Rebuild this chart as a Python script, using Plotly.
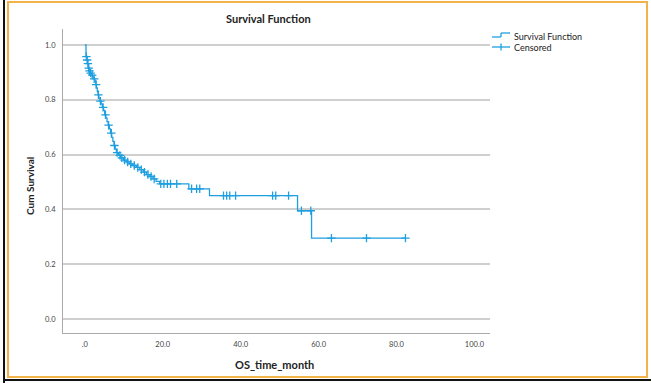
import plotly.graph_objects as go
import bisect

# ---- data ----
event_times = [0, 0.3, 0.5, 0.7, 0.9, 1.1, 1.4, 1.7, 2.0, 2.3, 2.6, 2.8, 3.0, 3.2, 3.4,
               3.6, 3.9, 4.2, 4.5, 4.8, 5.1, 5.4, 5.7, 6.0, 6.3, 6.6, 6.9, 7.2, 7.5, 7.8,
               8.1, 8.6, 9.2, 9.9, 10.6, 11.4, 12.3, 13.2, 14.1, 15.0, 15.8, 16.7, 17.5,
               18.3, 19.2, 26.7, 32.0, 54.6, 58.2, 82.3]
survival = [1.0, 0.957, 0.945, 0.932, 0.915, 0.905, 0.897, 0.89, 0.883, 0.876, 0.869,
            0.855, 0.843, 0.83, 0.818, 0.806, 0.795, 0.784, 0.772, 0.761, 0.745, 0.733,
            0.72, 0.707, 0.694, 0.678, 0.663, 0.648, 0.633, 0.62, 0.607, 0.597, 0.588,
            0.58, 0.573, 0.566, 0.56, 0.553, 0.545, 0.536, 0.527, 0.52, 0.511, 0.502,
            0.493, 0.475, 0.45, 0.395, 0.295, 0.295]
censored_times = [0.4, 0.6, 0.8, 1.0, 1.2, 1.5, 1.9, 2.4, 2.9, 3.5, 4.0, 4.7, 5.3, 6.1,
                  6.8, 7.6, 8.3, 9.0, 9.5, 10.2, 11.0, 11.8, 12.7, 13.6, 14.5, 15.3, 16.2,
                  17.0, 17.8, 19.5, 20.3, 21.2, 22.0, 23.6, 27.4, 28.7, 29.5, 35.6, 36.4,
                  37.2, 38.7, 48.2, 49.0, 52.3, 55.6, 58.0, 63.3, 72.3, 82.3]
x_tick_vals = [0, 20, 40, 60, 80, 100]
x_tick_text = [".0", "20.0", "40.0", "60.0", "80.0", "100.0"]
y_tick_vals = [0.0, 0.2, 0.4, 0.6, 0.8, 1.0]
y_tick_text = ["0.0", "0.2", "0.4", "0.6", "0.8", "1.0"]
legend_names = ["Survival Function", "Censored"]


def surv_at(t):
    i = bisect.bisect_right(event_times, t) - 1
    return survival[max(i, 0)]


censored_surv = [surv_at(t) for t in censored_times]

BLUE = "#1E9FE0"
W, H = 651, 383
L, R, T, B = 63, 490, 29, 333


def px(x):
    return (x - L) / (R - L)


def py(y):
    return (B - y) / (B - T)


fig = go.Figure()
fig.add_trace(go.Scatter(x=event_times, y=survival, mode="lines", line_shape="hv",
                         line=dict(color=BLUE, width=1.3), name=legend_names[0]))
fig.add_trace(go.Scatter(x=censored_times, y=censored_surv, mode="markers",
                         marker=dict(symbol="cross-thin-open", size=6, color=BLUE,
                                     line=dict(color=BLUE, width=1.3)),
                         name=legend_names[1]))

# custom compact legend (glyphs drawn as shapes)
def seg(x0, y0, x1, y1):
    return dict(type="line", xref="paper", yref="paper", x0=px(x0), x1=px(x1),
                y0=py(y0), y1=py(y1), line=dict(color=BLUE, width=1.3))


legend_shapes = [
    seg(492, 37, 501, 37), seg(501, 37, 501, 33), seg(501, 33, 510, 33),
    seg(492, 47, 510, 47), seg(501, 43.5, 501, 50.5),
]

font_fam = "Lato, 'Open Sans', Arial, sans-serif"
fig.update_layout(
    width=W, height=H,
    margin=dict(l=L, r=W - R, t=T, b=H - B, pad=0),
    paper_bgcolor="white", plot_bgcolor="white",
    font=dict(family=font_fam, color="#333333", size=8),
    showlegend=False,
    xaxis=dict(range=[-5.6, 104], tickvals=x_tick_vals, ticktext=x_tick_text,
               showgrid=False, zeroline=False, showline=True, linecolor="#aaaaaa",
               linewidth=1, ticks="", ticklabelstandoff=4,
               tickfont=dict(size=7.5, color="#444444")),
    yaxis=dict(range=[-0.051, 1.058], tickvals=y_tick_vals, ticktext=y_tick_text,
               showgrid=True, gridcolor="#cfcfcf", gridwidth=1.5, zeroline=False,
               showline=True, linecolor="#aaaaaa", linewidth=1, ticks="",
               ticklabelstandoff=5, tickfont=dict(size=7.5, color="#444444")),
    annotations=[
        dict(text="<b>Survival Function</b>", x=px(268), y=py(19), xref="paper", yref="paper",
             showarrow=False, font=dict(size=11, color="#222222"), xanchor="center", yanchor="middle"),
        dict(text="<b>Cum Survival</b>", x=px(30), y=py(186), xref="paper", yref="paper",
             showarrow=False, textangle=-90, font=dict(size=10, color="#222222"),
             xanchor="center", yanchor="middle"),
        dict(text="<b>OS_time_month</b>", x=px(274), y=py(364), xref="paper", yref="paper",
             showarrow=False, font=dict(size=11, color="#222222"), xanchor="center", yanchor="middle"),
        dict(text=legend_names[0], x=px(512), y=py(36), xref="paper", yref="paper",
             showarrow=False, font=dict(size=9, color="#222222"), xanchor="left", yanchor="middle"),
        dict(text=legend_names[1], x=px(512), y=py(47), xref="paper", yref="paper",
             showarrow=False, font=dict(size=9, color="#222222"), xanchor="left", yanchor="middle"),
    ],
    shapes=[
        dict(type="rect", xref="paper", yref="paper", x0=px(8), x1=px(647), y0=py(377), y1=py(2),
             line=dict(color="#F2B44A", width=2), fillcolor="rgba(0,0,0,0)", layer="below"),
        dict(type="line", xref="paper", yref="paper", x0=px(4), x1=px(4), y0=py(0), y1=py(383),
             line=dict(color="#111111", width=2)),
        dict(type="line", xref="paper", yref="paper", x0=px(4), x1=px(651), y0=py(380), y1=py(380),
             line=dict(color="#111111", width=2)),
    ] + legend_shapes,
)

fig.write_html("out.html")
